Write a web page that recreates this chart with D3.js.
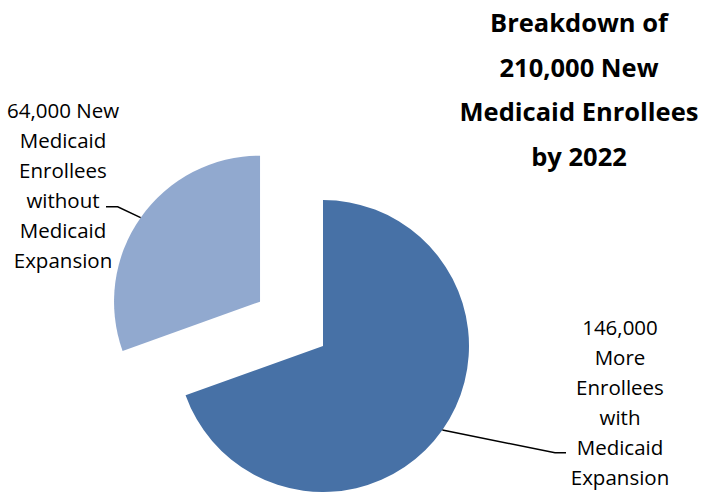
<!DOCTYPE html>
<html>
<head>
<meta charset="utf-8">
<script src="https://cdn.jsdelivr.net/npm/d3@7"></script>
<style>
  html, body { margin: 0; padding: 0; background: #fff; }
  svg { display: block; }
  .title { font-family: "Open Sans", sans-serif; font-weight: 700; }
  .label { font-family: "Open Sans", sans-serif; }
</style>
</head>
<body>
<div id="chart"></div>
<script>
// Data
const categories = ['More Enrollees with Medicaid Expansion', 'New Medicaid Enrollees without Medicaid Expansion'];
const values = [146000, 64000];
const labelLines = [
  ['146,000', 'More', 'Enrollees', 'with', 'Medicaid', 'Expansion'],
  ['64,000 New', 'Medicaid', 'Enrollees', 'without', 'Medicaid', 'Expansion']
];
const titleLines = ['Breakdown of', '210,000 New', 'Medicaid Enrollees', 'by 2022'];

const colors = ['#4771A6', '#91A9CF'];
const explode = [0, 77];

const width = 702, height = 492;
const center = { x: 323, y: 346 };
const radius = 146;

const svg = d3.select('#chart').append('svg')
  .attr('width', width)
  .attr('height', height);

const pie = d3.pie().sort(null).value(d => d);
const arcs = pie(values);
const arc = d3.arc().innerRadius(0).outerRadius(radius);

// offset each slice along its bisector
const offset = (d, i) => {
  const a = (d.startAngle + d.endAngle) / 2;
  return [Math.sin(a) * explode[i], -Math.cos(a) * explode[i]];
};

const g = svg.append('g').attr('transform', `translate(${center.x},${center.y})`);

g.selectAll('path.slice')
  .data(arcs)
  .enter()
  .append('path')
  .attr('class', 'slice')
  .attr('fill', (d, i) => colors[i])
  .attr('transform', (d, i) => `translate(${offset(d, i)})`)
  .attr('d', arc);

// label layout: elbow and end of leader, text center and first baseline
const labelLayout = [
  { elbow: [555, 452.7], end: [566, 452.7], cx: 620, y0: 335 },
  { elbow: [117.7, 206.7], end: [106, 206.7], cx: 63, y0: 118 }
];

arcs.forEach((d, i) => {
  const a = (d.startAngle + d.endAngle) / 2;
  const [ox, oy] = offset(d, i);
  const px = center.x + ox + Math.sin(a) * radius;
  const py = center.y + oy - Math.cos(a) * radius;
  const L = labelLayout[i];
  svg.append('polyline')
    .attr('points', [[px, py], L.elbow, L.end].map(p => p.join(',')).join(' '))
    .attr('fill', 'none')
    .attr('stroke', '#000')
    .attr('stroke-width', 1.5);

  svg.append('text')
    .attr('class', 'label')
    .attr('text-anchor', 'middle')
    .attr('font-size', 20.5)
    .attr('fill', '#000')
    .selectAll('tspan')
    .data(labelLines[i])
    .enter()
    .append('tspan')
    .attr('x', L.cx)
    .attr('y', (t, j) => L.y0 + j * 30)
    .text(t => t);
});

// Title
svg.append('text')
  .attr('class', 'title')
  .attr('text-anchor', 'middle')
  .attr('font-size', 25.5)
  .attr('fill', '#000')
  .selectAll('tspan')
  .data(titleLines)
  .enter()
  .append('tspan')
  .attr('x', 579)
  .attr('y', (t, j) => 32 + j * 44.7)
  .text(t => t);
</script>
</body>
</html>
